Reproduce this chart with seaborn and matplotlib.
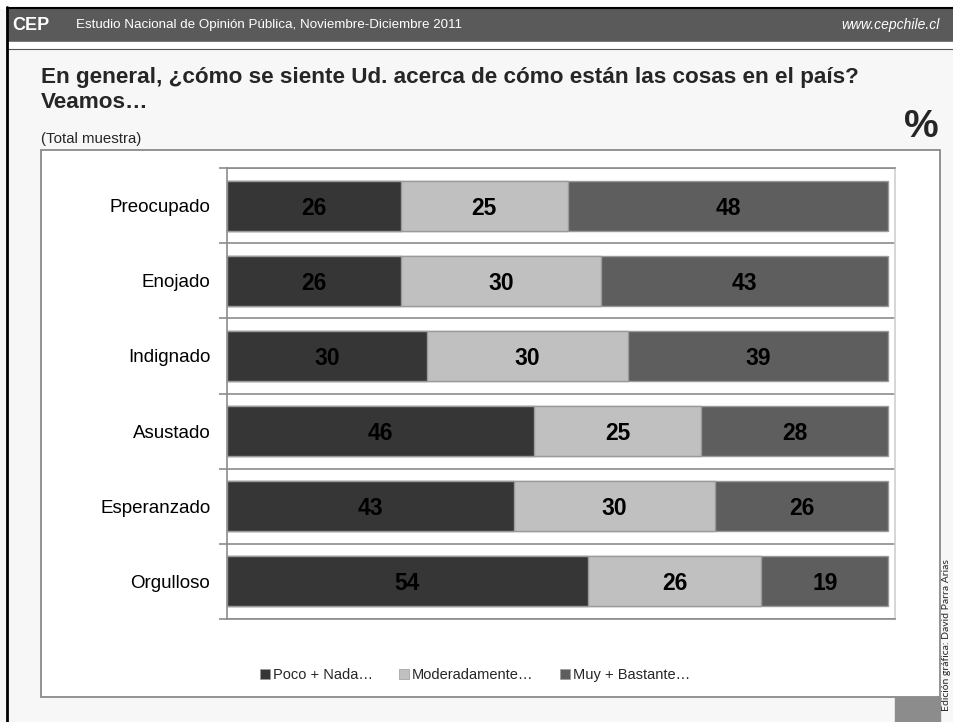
import numpy as np
import pandas as pd
import seaborn as sns
import matplotlib.pyplot as plt
from matplotlib.patches import Rectangle, Patch

sns.set_style('white')
plt.rcParams['font.family'] = ['Liberation Sans', 'DejaVu Sans']

categories = ['Preocupado', 'Enojado', 'Indignado', 'Asustado', 'Esperanzado', 'Orgulloso']
poco_nada = [26, 26, 30, 46, 43, 54]
moderadamente = [25, 30, 30, 25, 30, 26]
muy_bastante = [48, 43, 39, 28, 26, 19]
series_names = ['Poco + Nada…', 'Moderadamente…', 'Muy + Bastante…']
colors = ['#363636', '#c0c0c0', '#5e5e5e']

W, H = 954, 722
def fx(x): return x / W
def fy(y): return 1 - y / H

df = pd.DataFrame({'cat': categories, 'poco': poco_nada, 'mod': moderadamente, 'muy': muy_bastante})
tot = df[['poco', 'mod', 'muy']].sum(axis=1)
# 100% stacked: share of each row
for c in ['poco', 'mod', 'muy']:
    df[c + '_pct'] = df[c] / tot * 100
df['c1'] = df['poco_pct']
df['c2'] = df['c1'] + df['mod_pct']
df['c3'] = df['c2'] + df['muy_pct']

fig = plt.figure(figsize=(W / 100, H / 100), dpi=100)
fig.patch.set_facecolor('#f7f7f7')

# page frame / header
fig.patches.append(Rectangle((0, fy(8)), 1, 8 / H, transform=fig.transFigure, color='white', zorder=0))
fig.patches.append(Rectangle((fx(7), fy(42)), 1, 34 / H, transform=fig.transFigure, color='#5a5a5a', zorder=1))
fig.patches.append(Rectangle((fx(7), fy(48)), 1, 6 / H, transform=fig.transFigure, color='white', zorder=1))
fig.lines.append(plt.Line2D([fx(7), 1], [fy(7.5), fy(7.5)], transform=fig.transFigure, color='black', lw=1.5))
fig.lines.append(plt.Line2D([fx(7), 1], [fy(48.5), fy(48.5)], transform=fig.transFigure, color='#555555', lw=0.8))
fig.lines.append(plt.Line2D([fx(7), fx(7)], [0, fy(7)], transform=fig.transFigure, color='black', lw=2))

# chart panel
fig.patches.append(Rectangle((fx(41), fy(697)), (940 - 41) / W, (697 - 150) / H, transform=fig.transFigure,
                             facecolor='white', edgecolor='#8a8a8a', lw=1.3, zorder=1))
fig.patches.append(Rectangle((fx(895), 0), 45 / W, 25 / H, transform=fig.transFigure, color='#8c8c8c', zorder=1))

fig.text(fx(12), fy(25), 'CEP', color='white', fontsize=13, fontweight='bold', va='center')
fig.text(fx(76), fy(25), 'Estudio Nacional de Opinión Pública, Noviembre-Diciembre 2011', color='white',
         fontsize=9.6, va='center')
fig.text(fx(940), fy(25), 'www.cepchile.cl', color='white', fontsize=10, style='italic', va='center', ha='right')
fig.text(fx(41), fy(77), 'En general, ¿cómo se siente Ud. acerca de cómo están las cosas en el país?',
         fontsize=16.2, fontweight='bold', va='center')
fig.text(fx(41), fy(102), 'Veamos…', fontsize=16.2, fontweight='bold', va='center')
fig.text(fx(41), fy(139), '(Total muestra)', fontsize=10.8, va='center')
fig.text(fx(939), fy(127), '%', fontsize=28, fontweight='bold', va='center', ha='right')
fig.text(fx(947), fy(635), 'Edición gráfica: David Parra Arias', fontsize=7.5, rotation=90, va='center',
         ha='center', family=['Lato', 'DejaVu Sans'])

ax = fig.add_axes([fx(227), fy(619), (895 - 227) / W, (619 - 168) / H])
ax.set_zorder(5)
ax.set_facecolor('white')
for col, color in zip(['c3', 'c2', 'c1'], colors[::-1]):
    sns.barplot(data=df, x=col, y='cat', orient='h', color=color, width=0.667,
                edgecolor='#9a9a9a', linewidth=1, saturation=1, ax=ax)

for i, row in df.iterrows():
    for v, lo, hi in [(row['poco'], 0, row['c1']), (row['mod'], row['c1'], row['c2']), (row['muy'], row['c2'], row['c3'])]:
        ax.text((lo + hi) / 2, i, f'{v:d}', ha='center', va='center_baseline', fontsize=16.5,
                fontweight='bold', color='black')

ax.set_xlim(0, 101)
ax.set_ylim(5.5, -0.5)
ax.set_xlabel('')
ax.set_ylabel('')
ax.set_xticks([])
ax.set_yticks(np.arange(-0.5, 6, 1), minor=True)
ax.tick_params(axis='y', which='minor', length=6, color='#8c8c8c', width=1.2, left=True)
ax.tick_params(axis='y', which='major', length=0, pad=12, labelsize=13.5, labelcolor='black')
ax.grid(axis='y', which='minor', color='#8c8c8c', lw=1.2)
ax.set_axisbelow(True)
for s in ['left', 'top', 'bottom']:
    ax.spines[s].set_color('#8c8c8c')
    ax.spines[s].set_linewidth(1.2)
ax.spines['right'].set_color('#cfcfcf')
ax.spines['right'].set_linewidth(1.2)

handles = [Patch(facecolor=c, edgecolor='#9a9a9a', lw=0.5) for c in colors]
fig.legend(handles, series_names, loc='center', bbox_to_anchor=(fx(475), fy(675)), ncol=3, frameon=False,
           fontsize=10.5, handlelength=0.7, handleheight=0.7, handletextpad=0.2, columnspacing=1.8)

fig.savefig('out.png', dpi=100, facecolor=fig.get_facecolor())
